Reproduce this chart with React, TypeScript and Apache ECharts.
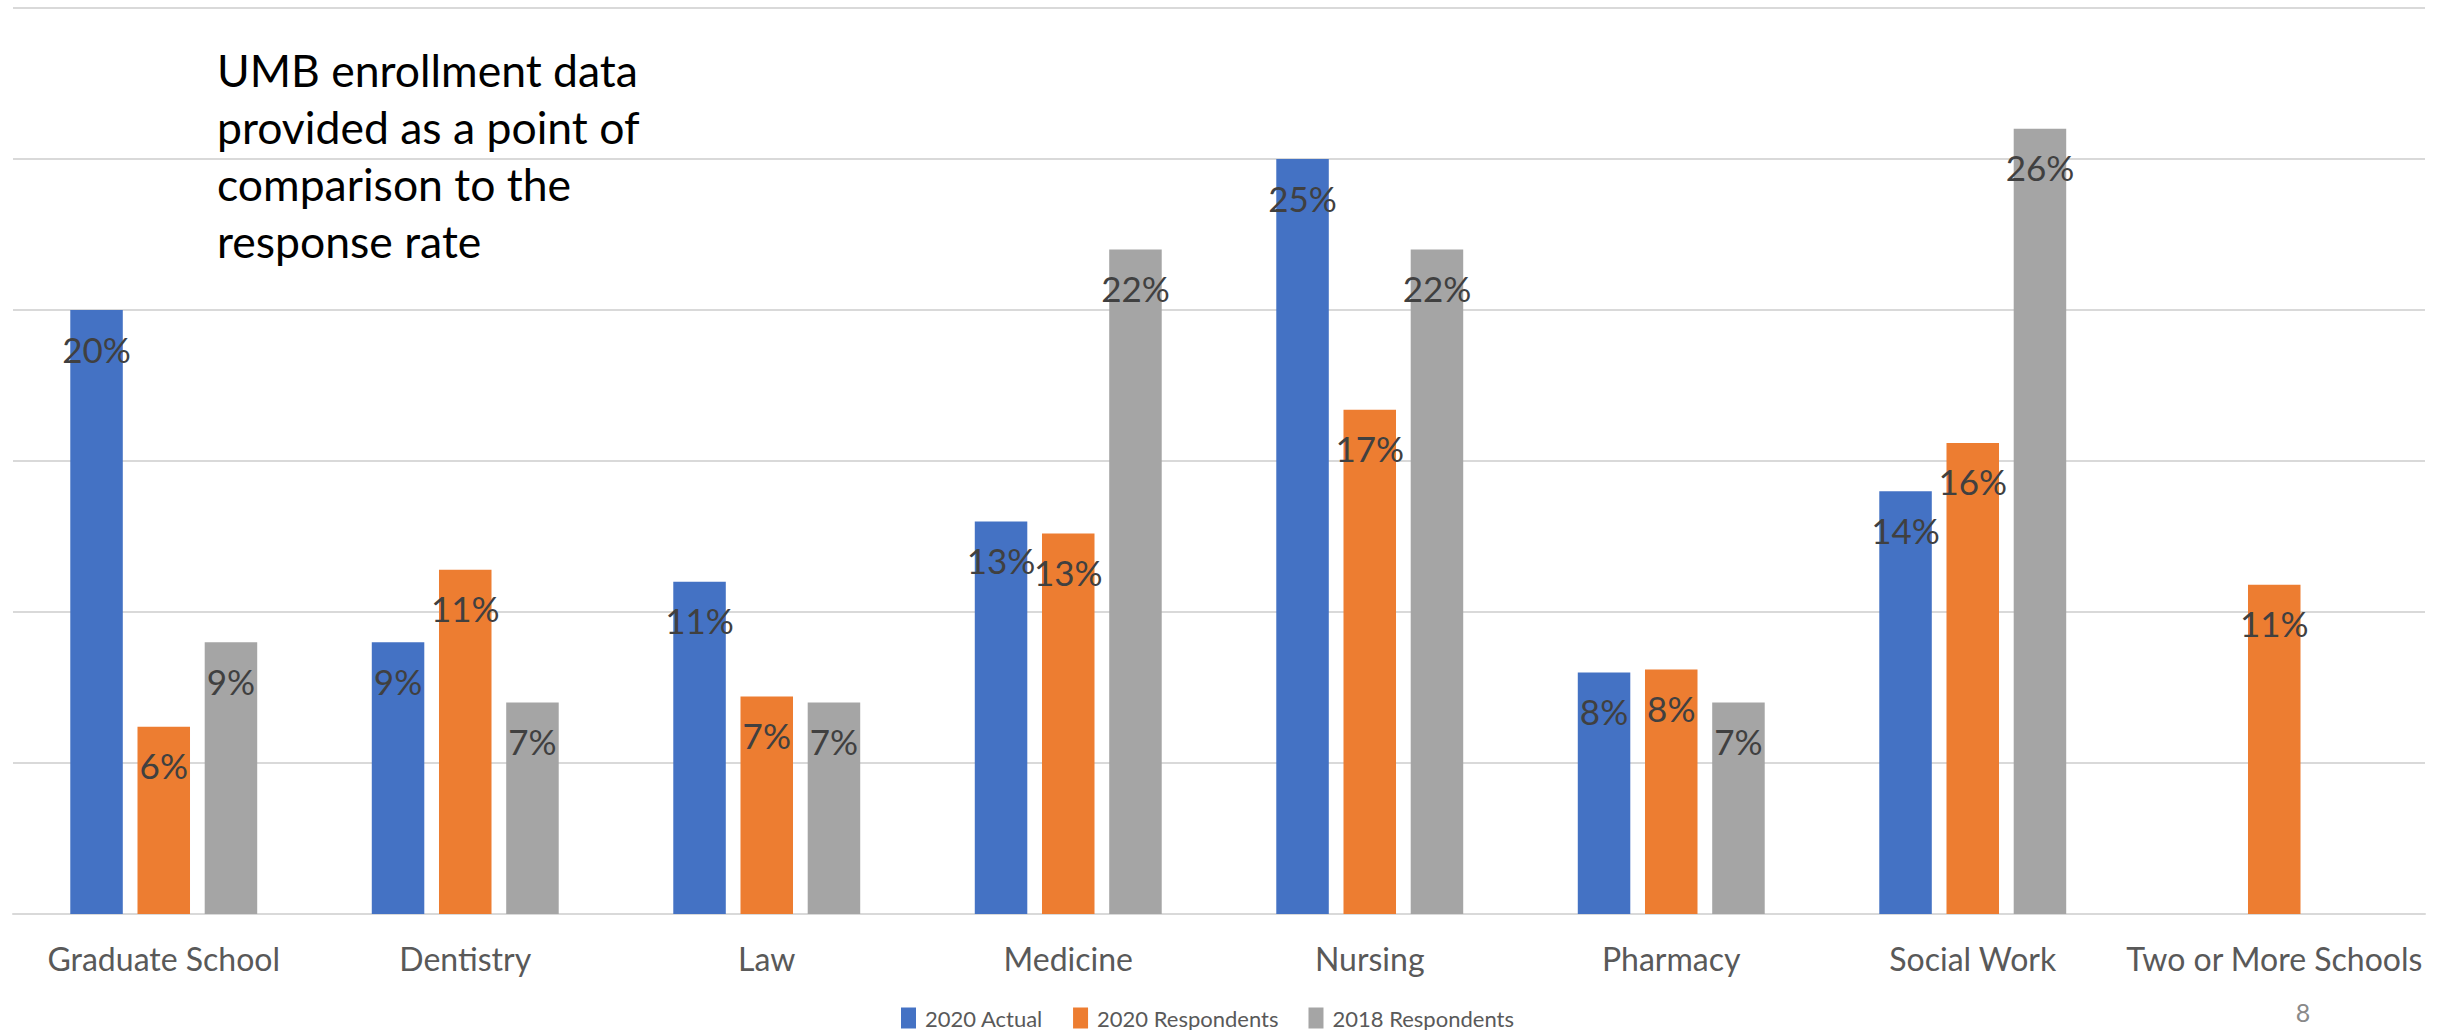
import React, { useEffect, useRef } from "react";
import * as echarts from "echarts";

const categories = [
  "Graduate School",
  "Dentistry",
  "Law",
  "Medicine",
  "Nursing",
  "Pharmacy",
  "Social Work",
  "Two or More Schools",
];
const seriesNames = ["2020 Actual", "2020 Respondents", "2018 Respondents"];
const actual2020: (number | string)[] = [20.0, 9.0, 11.0, 13.0, 25.0, 8.0, 14.0, "-"];
const respondents2020: (number | string)[] = [6.2, 11.4, 7.2, 12.6, 16.7, 8.1, 15.6, 10.9];
const respondents2018: (number | string)[] = [9.0, 7.0, 7.0, 22.0, 22.0, 7.0, 26.0, "-"];
const colors = ["#4472C4", "#ED7D31", "#A5A5A5"];
const noteLines = [
  "UMB enrollment data",
  "provided as a point of",
  "comparison to the",
  "response rate",
];
const pageNumber = "8";

const FONT = "Lato, 'Noto Sans', 'DejaVu Sans', sans-serif";

export default function App() {
  const ref = useRef<HTMLDivElement>(null);
  useEffect(() => {
    if (!ref.current) return;
    const chart = echarts.init(ref.current, undefined, { renderer: "svg" });
    const mk = (name: string, data: (number | string)[], color: string) => ({
      name,
      type: "bar",
      data,
      barGap: "28%",
      barCategoryGap: "38%",
      itemStyle: { color },
      label: {
        show: true,
        position: "insideTop",
        distance: 21,
        fontFamily: FONT,
        fontSize: 35,
        color: "#404040",
        formatter: (p: any) => Math.round(p.value) + "%",
      },
    });
    chart.setOption({
      animation: false,
      backgroundColor: "#ffffff",
      textStyle: { fontFamily: FONT },
      grid: { left: 13, right: 38, top: 8, bottom: 116, containLabel: false },
      legend: {
        data: seriesNames,
        left: 901,
        top: 1007,
        padding: 0,
        itemWidth: 15,
        itemHeight: 21,
        itemGap: 30,
        icon: "rect",
        textStyle: {
          fontFamily: FONT,
          fontSize: 22,
          lineHeight: 20,
          color: "#595959",
          padding: [0, 0, 0, 4],
        },
      },
      xAxis: {
        type: "category",
        data: categories,
        axisLine: { lineStyle: { color: "#d9d9d9", width: 2 } },
        axisTick: { show: false },
        axisLabel: {
          fontFamily: FONT,
          fontSize: 32,
          color: "#595959",
          margin: 28,
          interval: 0,
        },
      },
      yAxis: {
        type: "value",
        min: 0,
        max: 30,
        interval: 5,
        axisLabel: { show: false },
        axisLine: { show: false },
        axisTick: { show: false },
        splitLine: { lineStyle: { color: "#d9d9d9", width: 2 } },
      },
      graphic: [
        {
          type: "text",
          left: 217,
          top: 41,
          style: {
            text: noteLines.join("\n"),
            fontFamily: FONT,
            fontSize: 44.5,
            lineHeight: 57,
            fill: "#000000",
          },
        },
        {
          type: "text",
          x: 2303,
          y: 1012,
          style: {
            text: pageNumber,
            fontFamily: FONT,
            fontSize: 25,
            lineHeight: 20,
            fill: "#898989",
            align: "center",
            verticalAlign: "middle",
          },
        },
      ],
      series: [
        mk(seriesNames[0], actual2020, colors[0]),
        mk(seriesNames[1], respondents2020, colors[1]),
        mk(seriesNames[2], respondents2018, colors[2]),
      ],
    });
    return () => chart.dispose();
  }, []);
  return (
    <div
      ref={ref}
      style={{ position: "fixed", left: 0, top: 0, width: 2463, height: 1030 }}
    />
  );
}
